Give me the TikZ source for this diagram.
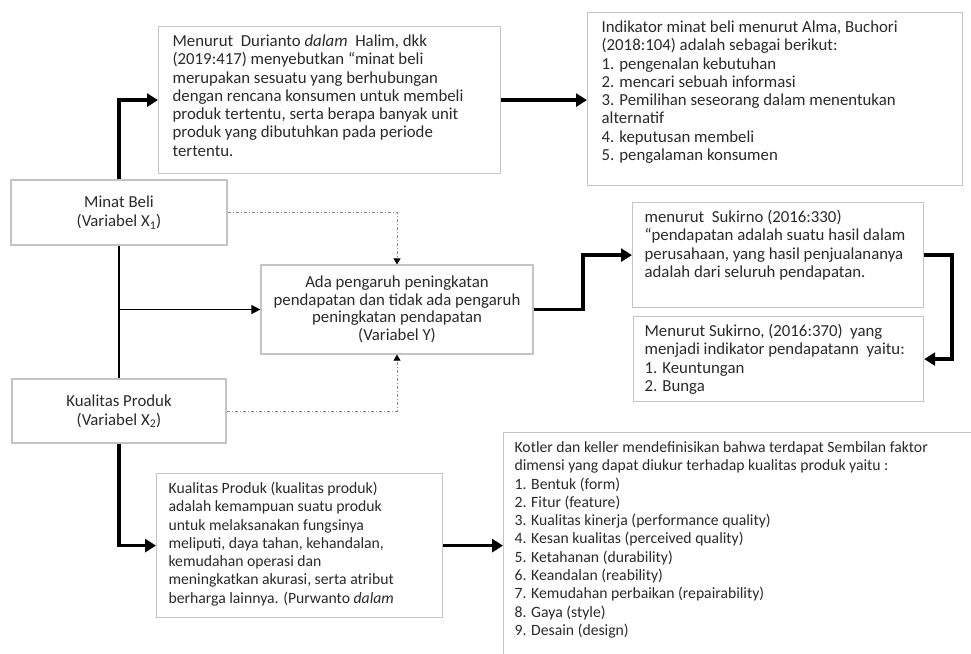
\documentclass[tikz,border=0pt]{standalone}
\usepackage{fontspec}
\setmainfont{Carlito}
\usetikzlibrary{arrows.meta,calc}
\definecolor{txt}{HTML}{2A2A2A}
\definecolor{bord}{HTML}{C4C4C4}
\definecolor{dotc}{HTML}{8A8A8A}
\newcommand{\fbx}[3]{\begin{minipage}[t][#2][t]{#1}\begin{tabular}[t]{@{}l@{}}#3\end{tabular}\end{minipage}}
\begin{document}
\begin{tikzpicture}[x=1pt,y=-1pt,
  every node/.style={font=\fontsize{16.8}{18.3}\selectfont, text=txt},
  smallfont/.style={font=\fontsize{15.7}{18.3}\selectfont},
  tbox/.style={draw=bord, line width=1.2pt, anchor=north west, inner ysep=7pt},
  cbox/.style={draw=bord, line width=1.2pt, align=center, inner sep=0pt},
  thickarr/.style={line width=3.5pt, -{Triangle[length=11pt,width=13pt]}},
  thinln/.style={line width=1.4pt},
  thinarr/.style={line width=1.4pt, -{Triangle[length=9pt,width=9pt]}},
  dotarr/.style={draw=dotc, line width=0.9pt, dash pattern=on 3pt off 2pt on 1pt off 2pt, -{Triangle[length=6pt,width=7pt,color=black]}}
]
\useasboundingbox (0,0) rectangle (971,653);
\fill[white] (0,0) rectangle (971,653);
\clip (0,0) rectangle (971,653);

\node[cbox, minimum width=216pt, minimum height=65pt, font=\fontsize{16.8}{19}\selectfont] (M) at (119,212.5) {Minat Beli\\(Variabel X\textsubscript{1})};
\node[cbox, minimum width=214pt, minimum height=64pt, font=\fontsize{16.8}{19}\selectfont] (K) at (119,411) {Kualitas Produk\\(Variabel X\textsubscript{2})};
\node[cbox, minimum width=272pt, minimum height=89pt, font=\fontsize{16.8}{17.5}\selectfont] (Y) at (397,309.5) {Ada pengaruh peningkatan\\pendapatan dan tidak ada pengaruh\\peningkatan pendapatan\\(Variabel Y)};

\node[tbox, inner xsep=14pt] (A) at (158,26) {\fbx{314pt}{133pt}{Menurut\ \ Durianto \textit{dalam}\ \ Halim, dkk\\(2019:417) menyebutkan “minat beli\\merupakan sesuatu yang berhubungan\\dengan rencana konsumen untuk membeli\\produk tertentu, serta berapa banyak unit\\produk yang dibutuhkan pada periode\\tertentu.}};
\node[tbox, inner xsep=14pt] (B) at (587,12) {\fbx{347pt}{159pt}{Indikator minat beli menurut Alma, Buchori\\(2018:104) adalah sebagai berikut:\\1. pengenalan kebutuhan\\2. mencari sebuah informasi\\3. Pemilihan seseorang dalam menentukan\\alternatif\\4. keputusan membeli\\5. pengalaman konsumen}};
\node[tbox, inner xsep=12pt] (C) at (632,202) {\fbx{267pt}{91pt}{menurut\ \ Sukirno (2016:330)\\“pendapatan adalah suatu hasil dalam\\perusahaan, yang hasil penjualananya\\adalah dari seluruh pendapatan.}};
\node[tbox, inner xsep=11pt] (F) at (633,316) {\fbx{268pt}{71pt}{Menurut Sukirno, (2016:370)\ \ yang\\menjadi indikator pendapatann\ \ yaitu:\\1. Keuntungan\\2. Bunga}};
\node[tbox, smallfont, inner xsep=12pt] (D) at (156,473) {\fbx{262pt}{130pt}{Kualitas Produk (kualitas produk)\\adalah kemampuan suatu produk\\untuk melaksanakan fungsinya\\meliputi, daya tahan, kehandalan,\\kemudahan operasi dan\\meningkatkan akurasi, serta atribut\\berharga lainnya. (Purwanto \textit{dalam}}};
\node[tbox, smallfont, inner xsep=11pt] (E) at (503,432) {\fbx{470pt}{260pt}{Kotler dan keller mendefinisikan bahwa terdapat Sembilan faktor\\dimensi yang dapat diukur terhadap kualitas produk yaitu :\\1. Bentuk (form)\\2. Fitur (feature)\\3. Kualitas kinerja (performance quality)\\4. Kesan kualitas (perceived quality)\\5. Ketahanan (durability)\\6. Keandalan (reability)\\7. Kemudahan perbaikan (repairability)\\8. Gaya (style)\\9. Desain (design)}};

\draw[thickarr] (M.north) |- (A.west);
\draw[thickarr] (A.east) -- (A.east -| B.west);
\draw[thinln] (M.south) -- (K.north);
\coordinate (br) at (M.south |- Y.west);
\draw[thinarr] (br) -- (Y.west);
\draw[dotarr] (M.east) -| (Y.north);
\draw[dotarr] (K.east) -| (Y.south);
\draw[thickarr] (K.south) |- (D.west);
\draw[thickarr] (D.east) -- (D.east -| E.west);
\coordinate (yc) at ($(Y.east)!0.5!(Y.east -| C.west)$);
\draw[thickarr] (Y.east) -- (yc) |- (C.west);
\coordinate (cf) at ([xshift=28pt]C.east);
\draw[thickarr] (C.east) -- (cf) |- (F.east);
\end{tikzpicture}
\end{document}
